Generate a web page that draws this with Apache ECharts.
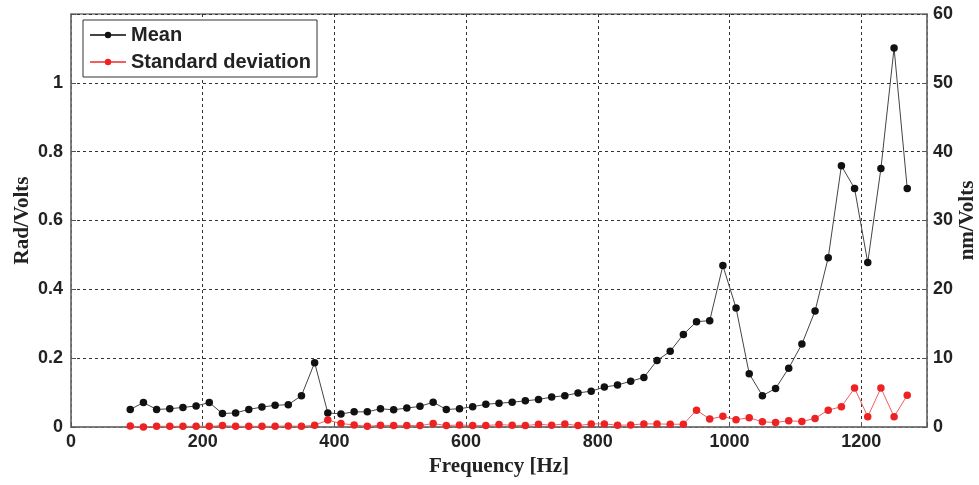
<!DOCTYPE html>
<html>
<head>
<meta charset="UTF-8">
<title></title>
<style>
  html, body { margin: 0; padding: 0; background: #fff; }
  #chart { width: 979px; height: 485px; }
</style>
</head>
<body>
<div id="chart"></div>
<script src="https://cdn.jsdelivr.net/npm/echarts@6/dist/echarts.min.js"></script>
<script>
// frequencies, 90..1270 Hz in 20 Hz steps
var freqs = [90, 110, 130, 150, 170, 190, 210, 230, 250, 270,
             290, 310, 330, 350, 370, 390, 410, 430, 450, 470,
             490, 510, 530, 550, 570, 590, 610, 630, 650, 670,
             690, 710, 730, 750, 770, 790, 810, 830, 850, 870,
             890, 910, 930, 950, 970, 990, 1010, 1030, 1050, 1070,
             1090, 1110, 1130, 1150, 1170, 1190, 1210, 1230, 1250, 1270];

var meanVals = [0.051, 0.071, 0.051, 0.053, 0.057, 0.061, 0.071, 0.039, 0.041, 0.051,
                0.058, 0.063, 0.065, 0.091, 0.187, 0.041, 0.038, 0.044, 0.044, 0.053,
                0.050, 0.055, 0.060, 0.072, 0.051, 0.053, 0.059, 0.066, 0.069, 0.072,
                0.076, 0.080, 0.087, 0.091, 0.099, 0.104, 0.116, 0.122, 0.133, 0.144,
                0.193, 0.220, 0.269, 0.306, 0.309, 0.469, 0.346, 0.155, 0.091, 0.112,
                0.171, 0.241, 0.337, 0.492, 0.759, 0.693, 0.478, 0.751, 1.101, 0.693];

var stdVals = [0.003, 0.000, 0.002, 0.002, 0.002, 0.002, 0.002, 0.004, 0.002, 0.002,
               0.002, 0.002, 0.003, 0.002, 0.005, 0.020, 0.010, 0.006, 0.002, 0.005,
               0.004, 0.004, 0.004, 0.010, 0.004, 0.006, 0.004, 0.004, 0.007, 0.005,
               0.004, 0.008, 0.005, 0.009, 0.004, 0.009, 0.009, 0.005, 0.006, 0.009,
               0.009, 0.008, 0.008, 0.049, 0.023, 0.031, 0.021, 0.027, 0.015, 0.013,
               0.018, 0.016, 0.025, 0.049, 0.059, 0.113, 0.030, 0.113, 0.030, 0.092];

function pairs(xs, ys) {
  return xs.map(function (x, i) { return [x, ys[i]]; });
}

var tickFont = { fontFamily: 'Liberation Sans', fontWeight: 'bold', fontSize: 18, color: '#222' };
var nameFont = { fontFamily: 'Liberation Serif', fontWeight: 'bold', fontSize: 21, color: '#222' };

var chart = echarts.init(document.getElementById('chart'));
chart.setOption({
  animation: false,
  grid: {
    left: 71, right: 52, top: 14, bottom: 58,
    outerBoundsMode: 'none', containLabel: false,
    show: true, borderColor: '#777', borderWidth: 1.5
  },
  legend: {
    left: 83, top: 20, orient: 'vertical',
    itemWidth: 36, itemHeight: 8, itemGap: 7,
    padding: [5, 6, 5, 6],
    borderColor: '#333', borderWidth: 1, backgroundColor: '#fff',
    textStyle: { fontFamily: 'Liberation Sans', fontWeight: 'bold', fontSize: 20, color: '#222' },
    data: ['Mean', 'Standard deviation']
  },
  xAxis: {
    type: 'value', min: 0, max: 1300, interval: 200,
    name: 'Frequency [Hz]', nameLocation: 'middle', nameGap: 29, nameMoveOverlap: false,
    nameTextStyle: nameFont,
    axisLine: { lineStyle: { color: '#777', width: 1.5 } },
    axisTick: { inside: true, length: 5, lineStyle: { color: '#555' } },
    axisLabel: Object.assign({ margin: 6, formatter: function (v) { return v === 1300 ? '' : v; } }, tickFont),
    splitLine: { lineStyle: { color: '#333', type: [3, 3], width: 1 } }
  },
  yAxis: [{
    type: 'value', min: 0, max: 1.2, interval: 0.2,
    name: 'Rad/Volts', nameLocation: 'middle', nameGap: 38, nameRotate: 90, nameMoveOverlap: false,
    nameTextStyle: nameFont,
    axisLine: { show: true, lineStyle: { color: '#777', width: 1.5 } },
    axisTick: { show: true, inside: true, length: 5, lineStyle: { color: '#555' } },
    axisLabel: Object.assign({ margin: 8, formatter: function (v) { return v > 1.1 ? '' : (+v.toFixed(1)).toString(); } }, tickFont),
    splitLine: { lineStyle: { color: '#333', type: [3, 3], width: 1 } }
  }, {
    type: 'value', min: 0, max: 60, interval: 10, position: 'right',
    name: 'nm/Volts', nameLocation: 'middle', nameGap: 30, nameRotate: 90, nameMoveOverlap: false,
    nameTextStyle: nameFont,
    axisLine: { show: true, lineStyle: { color: '#777', width: 1.5 } },
    axisTick: { show: true, inside: true, length: 5, lineStyle: { color: '#555' } },
    axisLabel: Object.assign({ margin: 6 }, tickFont),
    splitLine: { show: false }
  }],
  series: [{
    name: 'Mean', type: 'line', yAxisIndex: 0,
    data: pairs(freqs, meanVals),
    symbol: 'circle', symbolSize: 7.5,
    itemStyle: { color: '#111' },
    lineStyle: { color: '#444', width: 1 }
  }, {
    name: 'Standard deviation', type: 'line', yAxisIndex: 0,
    data: pairs(freqs, stdVals),
    symbol: 'circle', symbolSize: 7.5,
    itemStyle: { color: '#ee2222' },
    lineStyle: { color: '#f06060', width: 1 }
  }]
});
</script>
</body>
</html>
